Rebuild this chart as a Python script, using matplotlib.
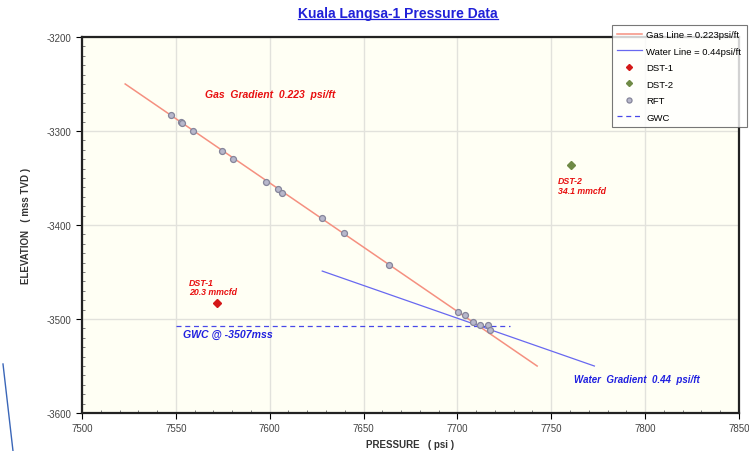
import matplotlib
matplotlib.use("Agg")
import matplotlib.pyplot as plt
from matplotlib.lines import Line2D
from matplotlib.ticker import MultipleLocator

plt.rcParams["font.family"] = ["Liberation Sans", "DejaVu Sans"]
plt.rcParams["axes.unicode_minus"] = False

# RFT pressure points (psi, elevation mss TVD)
rft_pressure = [7547.3, 7552.6, 7553.3, 7559.0, 7574.4, 7580.6, 7598.0, 7604.4, 7606.7,
                7627.7, 7639.6, 7663.7, 7700.5, 7704.0, 7708.5, 7712.0, 7716.1, 7717.4]
rft_elev = [-3282.7, -3290.1, -3291.5, -3299.7, -3321.0, -3329.5, -3354.6, -3362.0, -3365.6,
            -3392.9, -3408.2, -3442.6, -3492.9, -3496.1, -3503.5, -3506.4, -3506.4, -3511.7]

dst1 = (7572.0, -3483.0)
dst2 = (7760.5, -3336.0)

gas_line_p = [7523.0, 7742.5]
gas_line_e = [-3250.0, -3550.0]
water_line_p = [7628.0, 7773.0]
water_line_e = [-3449.0, -3550.0]
gwc_p = [7550.0, 7728.0]
gwc_e = [-3507.0, -3507.0]

fig = plt.figure(figsize=(7.49, 4.52), dpi=100)
ax = fig.add_axes([0.1095, 0.084, 0.877, 0.832])
ax.set_facecolor("#fffff4")

ax.plot(gas_line_p, gas_line_e, color="#f59080", lw=1.1, label="Gas Line = 0.223psi/ft", zorder=3)
ax.plot(water_line_p, water_line_e, color="#6868f0", lw=0.9, label="Water Line = 0.44psi/ft", zorder=3)
ax.plot([dst1[0]], [dst1[1]], ls="none", marker="D", ms=3.6, color="#d41818", label="DST-1", zorder=4)
ax.plot([dst2[0]], [dst2[1]], ls="none", marker="D", ms=3.6, color="#6f8a45", label="DST-2", zorder=4)
ax.plot(rft_pressure, rft_elev, ls="none", marker="o", ms=4.3, mfc="#b8b8cc", mec="#85859a",
        mew=0.9, label="RFT", zorder=5)
ax.plot(gwc_p, gwc_e, color="#4848e8", lw=0.9, ls=(0, (4, 3)), label="GWC", zorder=3)

ax.set_xlim(7500, 7850)
ax.set_ylim(-3600, -3200)
ax.xaxis.set_major_locator(MultipleLocator(50))
ax.xaxis.set_minor_locator(MultipleLocator(10))
ax.yaxis.set_major_locator(MultipleLocator(100))
ax.yaxis.set_minor_locator(MultipleLocator(10))
ax.grid(True, which="major", color="#e2e2dc", lw=1.0, zorder=0)
ax.tick_params(which="major", direction="out", length=4, labelsize=7, labelcolor="#444444", width=0.8)
ax.tick_params(which="minor", direction="in", length=2.5, width=0.6, color="#666666")
for s in ax.spines.values():
    s.set_linewidth(1.6)
    s.set_color("#222222")

ax.set_xlabel("PRESSURE   ( psi )", fontsize=7, fontweight="bold", color="#333333", labelpad=4)
ax.set_ylabel("ELEVATION   ( mss TVD )", fontsize=7, fontweight="bold", color="#333333", labelpad=11)

red_txt = dict(color="#e81010", fontweight="bold", style="italic")
blue_txt = dict(color="#2020e0", fontweight="bold", style="italic")
ax.text(7565.5, -3261, "Gas  Gradient  0.223  psi/ft", va="center", fontsize=7.5, **red_txt)
ax.text(7557, -3456, "DST-1\n20.3 mmcfd", va="top", linespacing=1.1, fontsize=6.3, **red_txt)
ax.text(7753.5, -3348, "DST-2\n34.1 mmcfd", va="top", linespacing=1.1, fontsize=6.3, **red_txt)
ax.text(7554, -3516, "GWC @ -3507mss", va="center", fontsize=7.6, **blue_txt)
ax.text(7762, -3564, "Water  Gradient  0.44  psi/ft", va="center", fontsize=7.0, **blue_txt)

leg = fig.legend(loc="upper left", bbox_to_anchor=(0.817, 0.943), fontsize=6.8,
                 frameon=True, fancybox=False, borderpad=0.55, labelspacing=0.8, handlelength=2.6,
                 handletextpad=0.5, borderaxespad=0, markerscale=0.85)
leg.get_frame().set_edgecolor("#555555")
leg.get_frame().set_linewidth(0.8)

title = fig.text(0.531, 0.968, "Kuala Langsa-1 Pressure Data", ha="center", va="center",
                 fontsize=10, fontweight="bold", color="#2020d8")
fig.canvas.draw()
bb = title.get_window_extent().transformed(fig.transFigure.inverted())
fig.add_artist(Line2D([bb.x0, bb.x1], [bb.y0 + 0.004, bb.y0 + 0.004], color="#2020d8", lw=0.9))

# stray pen stroke at the lower left of the screenshot
fig.add_artist(Line2D([3 / 749, 13 / 749], [1 - 365 / 452, 0.0], color="#3a66b8", lw=1.0))

fig.savefig("out.png", dpi=100)
